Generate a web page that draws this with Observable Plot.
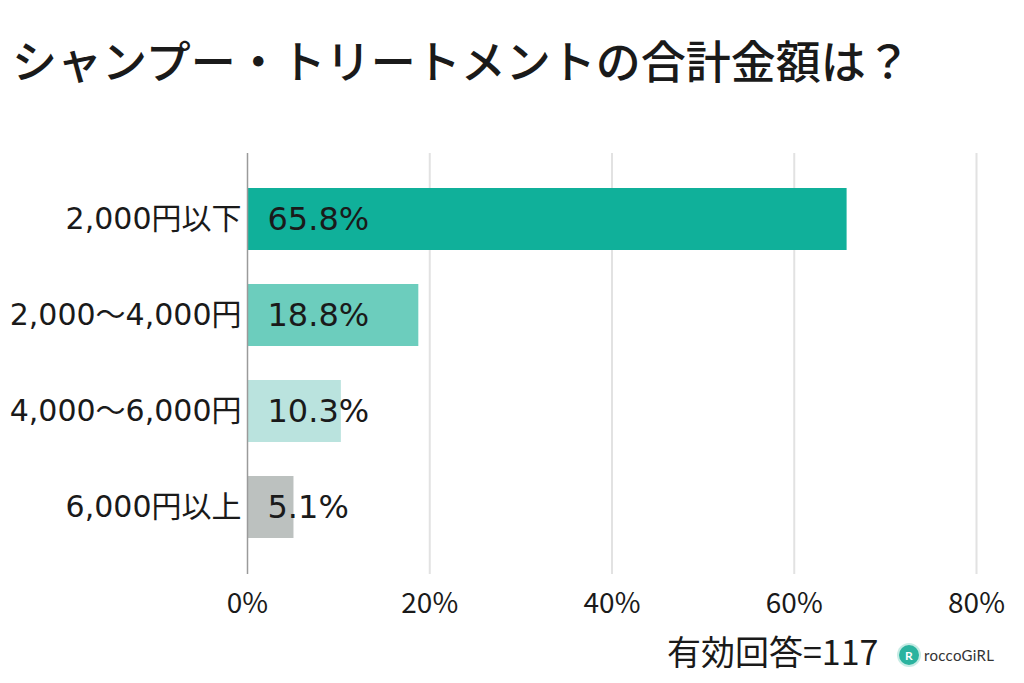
<!DOCTYPE html>
<html>
<head>
<meta charset="utf-8">
<script src="https://cdn.jsdelivr.net/npm/d3@7"></script>
<script src="https://cdn.jsdelivr.net/npm/@observablehq/plot@0.6"></script>
<style>
  html, body { margin: 0; padding: 0; background: #fff; }
  #wrap { position: relative; width: 1024px; height: 683px; overflow: hidden; font-family: "Noto Sans CJK JP", sans-serif; color: #1a1a1a; }
  #title { position: absolute; left: 12px; top: 30px; font-size: 45px; font-weight: 500; line-height: 60px; white-space: nowrap; letter-spacing: 0px; }
  #chart { position: absolute; left: 0; top: 110px; }
  #note { position: absolute; left: 667px; top: 628px; font-size: 34px; line-height: 46px; white-space: nowrap; }
  #logo { position: absolute; left: 899px; top: 645px; display: flex; align-items: center; gap: 5px; font-family: "Lato", "DejaVu Sans", sans-serif; font-size: 15px; color: #333; letter-spacing: 0.3px; }
  #logo .icon { width: 20px; height: 20px; border-radius: 50%; background: #2bb39f; box-shadow: 0 0 0 2px #c7ece5; color: #fff; font-size: 12px; font-weight: bold; display: flex; align-items: center; justify-content: center; }
</style>
</head>
<body>
<div id="wrap">
  <div id="title">シャンプー・トリートメントの合計金額は？</div>
  <div id="chart"></div>
  <div id="note">有効回答=117</div>
  <div id="logo"><div class="icon">R</div><div>roccoGiRL</div></div>
</div>
<script>
const categories = ["2,000円以下", "2,000〜4,000円", "4,000〜6,000円", "6,000円以上"];
const values = [65.8, 18.8, 10.3, 5.1];
const xTicks = [0, 20, 40, 60, 80];
const barColors = ["#10b09a", "#6ccdbd", "#bae3de", "#bcc1bf"];

const data = categories.map((c, i) => ({category: c, value: values[i]}));

const chart = Plot.plot({
  width: 1024,
  height: 520,
  marginLeft: 247,
  marginRight: 48,
  marginTop: 43,
  marginBottom: 56,
  style: {background: "transparent", color: "#1a1a1a"},
  x: {domain: [0, 80], ticks: xTicks, tickFormat: d => d + "%"},
  y: {domain: categories, padding: 0.35},
  color: {domain: categories, range: barColors},
  marks: [
    Plot.gridX(xTicks.filter(t => t > 0), {stroke: "#e2e2e2", strokeOpacity: 1, strokeWidth: 2}),
    Plot.barX(data, {y: "category", x: "value", fill: "category"}),
    Plot.ruleX([0], {stroke: "#9a9a9a", strokeWidth: 1.5}),
    Plot.text(data, {
      y: "category", x: () => 0, dx: 20, textAnchor: "start",
      text: d => d.value.toFixed(1) + "%",
      fontSize: 32, fill: "#1a1a1a",
      fontFamily: "'DejaVu Sans', 'Noto Sans CJK JP', sans-serif"
    }),
    Plot.axisY({tickSize: 0, tickPadding: 6, fontSize: 30, fontFamily: "'DejaVu Sans', 'Noto Sans CJK JP', sans-serif", label: null}),
    Plot.axisX({ticks: xTicks, tickFormat: d => d + "%", tickSize: 0, tickPadding: 19, fontSize: 28, fontFamily: "'Noto Sans CJK JP', sans-serif", label: null})
  ]
});
document.getElementById("chart").appendChild(chart);
</script>
</body>
</html>
